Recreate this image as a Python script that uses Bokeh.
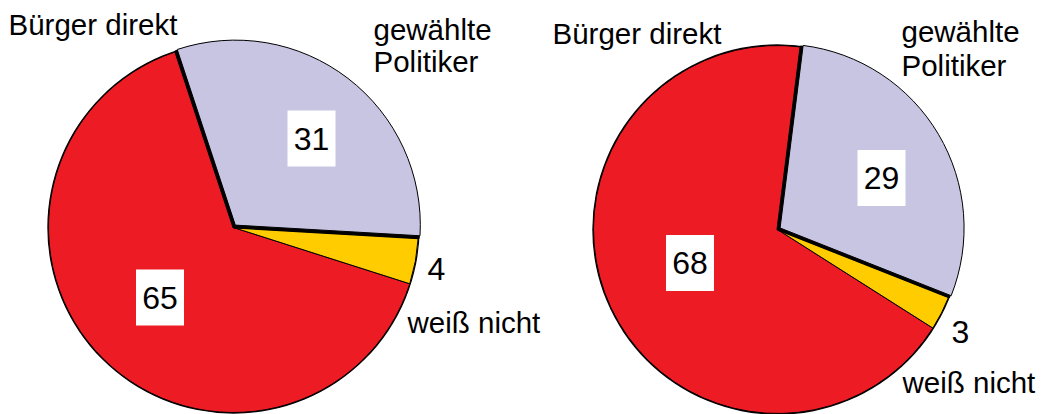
import math
from bokeh.plotting import figure
from bokeh.models import Range1d
from bokeh.core.properties import value
from bokeh.embed import file_html
from bokeh.resources import INLINE

# ---- data ----
categories = ["gewählte Politiker", "weiß nicht", "Bürger direkt"]
left_values = [31, 4, 65]
right_values = [29, 3, 68]
colors = ["#C7C5E2", "#FFCC00", "#ED1C24"]

W, H = 1042, 414
FONT = value("Liberation Sans")

p = figure(width=W, height=H, output_backend="svg", toolbar_location=None,
           x_range=Range1d(0, W), y_range=Range1d(0, H), min_border=0)
p.axis.visible = False
p.grid.visible = False
p.outline_line_color = None
p.background_fill_color = "white"


def Y(y_img):
    return H - y_img


def pie(cx, cy, r, vals, start_compass, explode=3.0):
    total = sum(vals)
    spans = [360.0 * v / total for v in vals]
    c = start_compass
    geo = []
    for s in spans:
        geo.append((c, c + s))
        c += s
    p.circle(x=[cx], y=[Y(cy)], radius=r + 1.2, fill_color="black", line_color=None)
    for i in (2, 1):
        c1, c2 = geo[i]
        p.wedge(x=[cx], y=[Y(cy)], radius=r, start_angle=math.radians(90 - c2),
                end_angle=math.radians(90 - c1), fill_color=colors[i],
                line_color="black", line_width=1)
    c1, c2 = geo[0]
    mid = math.radians((c1 + c2) / 2)
    dx, dy = explode * math.sin(mid), explode * math.cos(mid)
    p.wedge(x=[cx], y=[Y(cy)], radius=r + 0.5, start_angle=math.radians(90 - c2),
            end_angle=math.radians(90 - c1), fill_color="black", line_color="black",
            line_width=2)
    p.wedge(x=[cx + dx], y=[Y(cy) + dy], radius=r, start_angle=math.radians(90 - c2),
            end_angle=math.radians(90 - c1), fill_color=colors[0],
            line_color="black", line_width=1)


def txt(x, y_mid, s, size="29.5px"):
    # y_mid: vertical middle of the text line in image pixels
    p.text(x=[x], y=[Y(y_mid)], text=[s], text_font=FONT, text_font_size=size,
           text_color="black", text_baseline="middle", text_align="left")


def box(cx, cy, s):
    p.rect(x=[cx], y=[Y(cy)], width=48, height=56, fill_color="white", line_color=None)
    p.text(x=[cx], y=[Y(cy)], text=[s], text_font=FONT, text_font_size="32px",
           text_color="black", text_baseline="middle", text_align="center")


pie(233, 227, 185, left_values, -18.3)
pie(777, 229, 184, right_values, 7.2)

# left labels (vertical middles of the lines)
txt(8, 24, "Bürger direkt")
txt(373, 29, "gewählte")
txt(373, 61, "Politiker")
box(311, 138, str(left_values[0]))
box(159.5, 297, str(left_values[2]))
txt(427, 268, str(left_values[1]), size="32px")
txt(407, 322, "weiß nicht")

# right labels
txt(552, 33, "Bürger direkt")
txt(901, 31, "gewählte")
txt(901, 65, "Politiker")
box(881, 177.5, str(right_values[0]))
box(689.5, 262.5, str(right_values[2]))
txt(951, 331, str(right_values[1]), size="32px")
txt(902, 382, "weiß nicht")

open("out.html", "w").write(file_html(p, INLINE))
